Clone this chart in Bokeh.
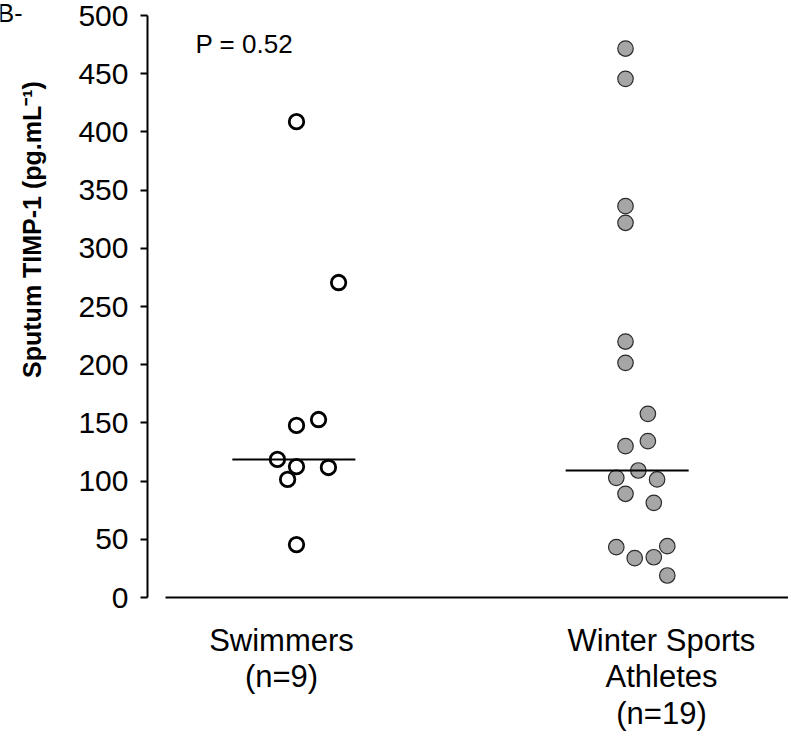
import numpy as np
from bokeh.plotting import figure
from bokeh.models import Range1d, FixedTicker, Label
from bokeh.embed import file_html
from bokeh.resources import INLINE

# Sputum TIMP-1 per athlete (pg/mL)
swimmers = [408.8, 270.6, 152.9, 147.8, 118.6, 112.5, 111.7, 101.4, 45.5]
winter = [471.6, 445.6, 336.2, 321.9, 219.9, 201.6, 157.8, 134.3, 130.0, 109.1,
          102.8, 101.4, 89.1, 81.3, 43.2, 33.8, 34.6, 44.1, 18.9]

# horizontal spread of overlapping points within each column
swim_spread = [0, 0.128, 0.067, 0, -0.058, 0, 0.097, -0.027, 0]
winter_spread = [0, 0, 0, 0, 0, 0, 0.068, 0.068, 0, 0.039,
                 -0.028, 0.096, 0, 0.086, -0.028, 0.028, 0.086, 0.127, 0.127]

group_labels = ["Swimmers\n(n=9)", "Winter Sports\nAthletes\n(n=19)"]
y_ticks = list(range(0, 501, 50))
y_title = "Sputum TIMP-1 (pg.mL\u207b\u00b9)"
p_value_text = "P = 0.52"
panel_tag = "B-"

FONT = "Liberation Sans"

# canvas geometry (pixels); the plotting frame fills the whole canvas and
# the axes are pinned at fixed data locations inside it
W, H = 788, 734
AXIS_X_PX = 147          # vertical axis
ZERO_Y_PX = 597          # value 0 / horizontal axis
TOP_Y_PX = 15            # value 500
GROUP1_PX = 296          # centre of the first column
PX_PER_X = 329.0         # distance between the two columns
PX_PER_Y = (ZERO_Y_PX - TOP_Y_PX) / 500.0

X_START = 1 - GROUP1_PX / PX_PER_X
X_END = X_START + W / PX_PER_X
Y_START = -(H - ZERO_Y_PX) / PX_PER_Y
Y_END = ZERO_Y_PX / PX_PER_Y


def sx(px):
    return X_START + px / PX_PER_X


def sy(py):
    return (ZERO_Y_PX - py) / PX_PER_Y


p = figure(width=W, height=H, x_range=Range1d(X_START, X_END), y_range=Range1d(Y_START, Y_END),
           output_backend="svg", toolbar_location=None,
           min_border_left=0, min_border_right=0, min_border_top=0, min_border_bottom=0)
p.grid.visible = False
p.outline_line_color = None
p.background_fill_color = "white"
p.border_fill_color = "white"

# value axis
ya = p.yaxis[0]
ya.fixed_location = sx(AXIS_X_PX)
ya.ticker = FixedTicker(ticks=y_ticks)
ya.bounds = (0, 500)
ya.axis_line_width = 2
ya.axis_line_color = "black"
ya.major_tick_line_width = 2
ya.major_tick_out = 7
ya.major_tick_in = 0
ya.minor_tick_line_color = None
ya.major_label_standoff = 12
ya.major_label_text_font = FONT
ya.major_label_text_font_size = "30px"
ya.major_label_text_color = "black"

# group axis
xa = p.xaxis[0]
xa.fixed_location = 0
label_pos = [round(sx(281), 4), round(sx(661), 4)]
xa.ticker = FixedTicker(ticks=label_pos)
xa.major_label_overrides = {label_pos[0]: group_labels[0], label_pos[1]: group_labels[1]}
xa.bounds = (sx(165), X_END)
xa.axis_line_width = 2
xa.axis_line_color = "black"
xa.major_tick_line_color = None
xa.minor_tick_line_color = None
xa.major_label_standoff = 19
xa.major_label_text_font = FONT
xa.major_label_text_font_size = "31px"
xa.major_label_text_line_height = 1.054
xa.major_label_text_color = "black"

# points
p.scatter(x=[1 + d for d in swim_spread], y=swimmers, size=14.5, marker="circle",
          fill_color="white", line_color="black", line_width=2.8)
p.scatter(x=[2 + d for d in winter_spread], y=winter, size=15.5, marker="circle",
          fill_color="#a6a6a6", line_color="#2b2b2b", line_width=1.2)

# medians
med = [float(np.median(swimmers)), float(np.median(winter))]
half = 0.187
p.segment(x0=[1 - half - 0.008, 2 - half + 0.005], x1=[1 + half - 0.008, 2 + half + 0.005],
          y0=med, y1=med, line_color="black", line_width=2)

# texts
p.add_layout(Label(x=sx(195), y=sy(43), text=p_value_text, text_font=FONT,
                   text_font_size="26px", text_align="left", text_baseline="alphabetic",
                   text_color="black"))
p.add_layout(Label(x=sx(31), y=sy(229), text=y_title, text_font=FONT,
                   text_font_size="25px", text_font_style="bold", angle=np.pi / 2,
                   text_align="center", text_baseline="middle", text_color="black"))
p.add_layout(Label(x=sx(-3), y=sy(12), text=panel_tag, text_font=FONT,
                   text_font_size="25px", text_align="left", text_baseline="alphabetic",
                   text_color="black"))

open("out.html", "w").write(file_html(p, INLINE))
